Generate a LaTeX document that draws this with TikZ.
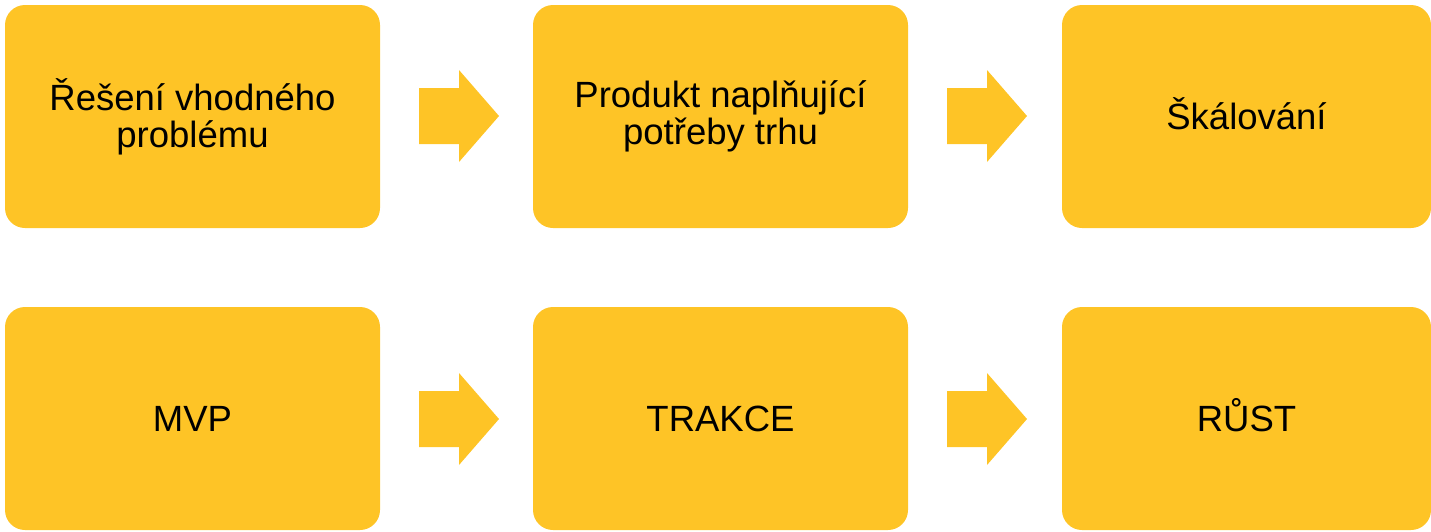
\documentclass[tikz,border=0pt]{standalone}
\usepackage{fontspec}
\setmainfont{Liberation Sans}
\definecolor{boxyellow}{RGB}{254,196,38}
\begin{document}
\begin{tikzpicture}[x=1pt,y=-1pt,
  stagebox/.style={fill=boxyellow, rounded corners=20pt, minimum width=375pt, minimum height=223pt,
    inner sep=0pt, align=center, text=black, font=\fontsize{36.5}{37}\selectfont},
  oneline/.style={text height=26pt, text depth=0pt},
  blockarrow/.pic={\fill[boxyellow] (-40,-28) -- (0,-28) -- (0,-46) -- (40,0) -- (0,46) -- (0,28) -- (-40,28) -- cycle;}
]
\useasboundingbox (0,0) rectangle (1431,531);
\node[stagebox] (a1) at (192.5,116.5) {Řešení vhodného\\problému};
\node[stagebox] (a2) at (720.5,116.5) {Produkt naplňující\\potřeby trhu};
\node[stagebox, oneline, minimum width=369pt] (a3) at (1246.5,116.5) {Škálování};
\node[stagebox, oneline] (b1) at (192.5,418.5) {MVP};
\node[stagebox, oneline] (b2) at (720.5,418.5) {TRAKCE};
\node[stagebox, oneline, minimum width=369pt] (b3) at (1246.5,418.5) {RŮST};
\pic at (459,116) {blockarrow};
\pic at (987,116) {blockarrow};
\pic at (459,419) {blockarrow};
\pic at (987,419) {blockarrow};
\end{tikzpicture}
\end{document}
